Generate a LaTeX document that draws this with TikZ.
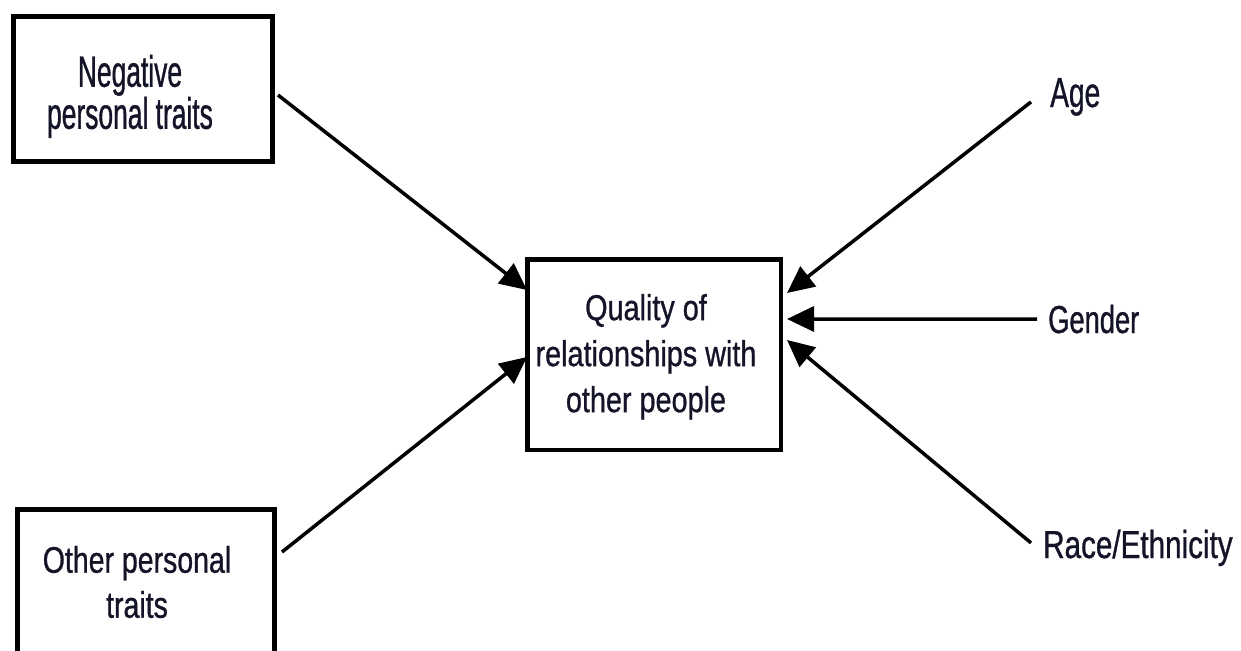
\documentclass[tikz,border=0pt]{standalone}
\usepackage{fontspec}
\setmainfont{Liberation Sans}
\newfontfamily\fNeg[FakeStretch=0.60,FakeBold=0.8]{Liberation Sans}
\newfontfamily\fQual[FakeStretch=0.80,FakeBold=0.8]{Liberation Sans}
\newfontfamily\fOth[FakeStretch=0.77,FakeBold=0.8]{Liberation Sans}
\newfontfamily\fAge[FakeStretch=0.67,FakeBold=0.8]{Liberation Sans}
\newfontfamily\fGen[FakeStretch=0.70,FakeBold=0.8]{Liberation Sans}
\newfontfamily\fRace[FakeStretch=0.76,FakeBold=0.8]{Liberation Sans}
\usetikzlibrary{arrows.meta,calc}
\definecolor{txtcol}{RGB}{20,20,40}
\begin{document}
\begin{tikzpicture}[x=1pt,y=-1pt,
  box/.style={draw,line width=5pt,inner sep=0pt},
  lbl/.style={inner sep=0pt,align=center,text=txtcol},
  side/.style={inner sep=0pt,anchor=base west,text=txtcol},
  arr/.style={line width=3.5pt,-{Triangle[length=27pt,width=25pt]}},
]
\useasboundingbox (0,0) rectangle (1241,650);
\clip (0,0) rectangle (1241,650);
% boxes
\node[box,minimum width=259pt,minimum height=145pt] (neg) at (143,89) {};
\node[lbl,font=\fNeg\fontsize{44}{41}\selectfont] (negt) at (130,96.4) {Negative\\personal traits};
\node[box,line width=4.5pt,minimum width=253.5pt,minimum height=190.5pt] (q) at (654,354.5) {};
\node[lbl,font=\fQual\fontsize{36}{46}\selectfont] (qt) at (646,356.8) {Quality of\\relationships with\\other people};
\node[box,minimum width=257pt,minimum height=188pt] (oth) at (146,603.5) {};
\node[lbl,font=\fOth\fontsize{37}{45}\selectfont] (otht) at (137,582) {Other personal\\traits};
% side labels
\node[side,font=\fAge\fontsize{42}{42}\selectfont] (age) at (1050,107) {Age};
\node[side,font=\fGen\fontsize{39}{39}\selectfont] (gen) at (1048,333) {Gender};
\node[side,font=\fRace\fontsize{39}{39}\selectfont] (race) at (1043,558) {Race/Ethnicity};
% arrows
\draw[arr] ([xshift=3pt,yshift=-6pt]neg.east) -- ([xshift=2pt,yshift=64.5pt]q.west);
\draw[arr] ([xshift=5pt,yshift=-45pt]oth.north east) -- ([xshift=2pt,yshift=-2.5pt]q.west);
\draw[arr] ([xshift=-19pt,yshift=-5pt]age.west) -- ([xshift=4pt,yshift=61.5pt]q.east);
\draw[arr] ([xshift=-11pt]gen.west) -- ([xshift=4pt,yshift=35.5pt]q.east);
\draw[arr] ([xshift=-12pt,yshift=5pt]race.west) -- ([xshift=4pt,yshift=14.5pt]q.east);
\end{tikzpicture}
\end{document}
